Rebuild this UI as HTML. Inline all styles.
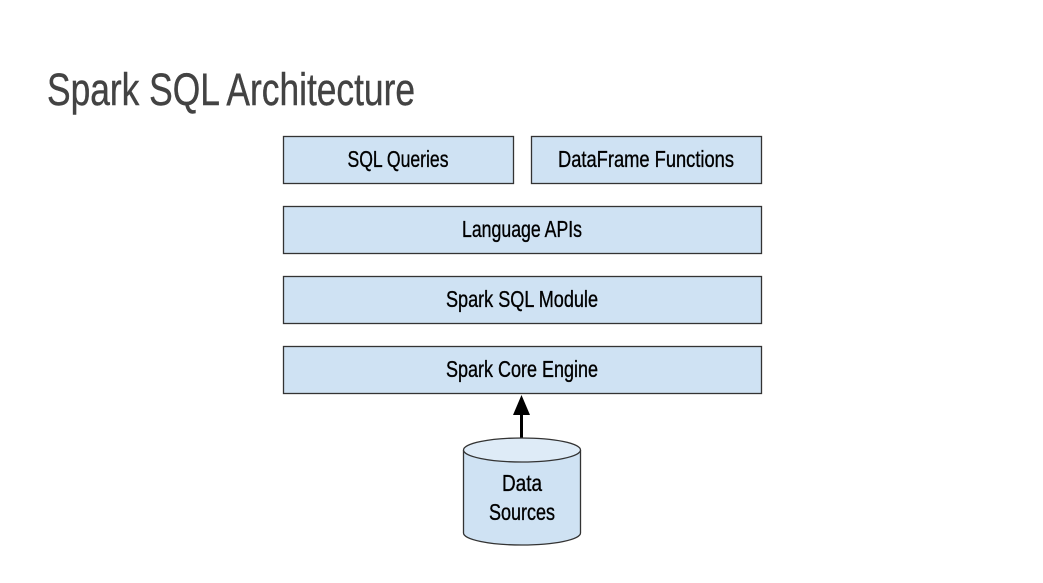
<!DOCTYPE html>
<html><head><style>
html,body{margin:0;padding:0;background:#fff;}
svg{display:block}
text{font-family:"Liberation Sans Narrow","Liberation Sans",sans-serif;}
</style></head><body>
<svg width="1043" height="583" viewBox="0 0 1043 583" xmlns="http://www.w3.org/2000/svg">
<text x="47" y="105" font-size="45" fill="#434343" stroke="#434343" stroke-width="0.4" textLength="368" lengthAdjust="spacingAndGlyphs">Spark SQL Architecture</text>
<g fill="#cfe2f3" stroke="#333" stroke-width="1.3">
<rect x="283.5" y="136.5" width="230" height="47"/>
<rect x="531.5" y="136.5" width="230" height="47"/>
<rect x="283.5" y="206.5" width="478" height="47"/>
<rect x="283.5" y="276.5" width="478" height="47"/>
<rect x="283.5" y="346.5" width="478" height="47"/>
</g>
<g font-size="23" fill="#000" stroke="#000" stroke-width="0.35" text-anchor="middle">
<text x="398" y="167" textLength="101" lengthAdjust="spacingAndGlyphs">SQL Queries</text>
<text x="646" y="167" textLength="176" lengthAdjust="spacingAndGlyphs">DataFrame Functions</text>
<text x="522" y="237" textLength="120" lengthAdjust="spacingAndGlyphs">Language APIs</text>
<text x="522" y="307" textLength="152" lengthAdjust="spacingAndGlyphs">Spark SQL Module</text>
<text x="522" y="377" textLength="152" lengthAdjust="spacingAndGlyphs">Spark Core Engine</text>
</g>
<line x1="521.5" y1="438" x2="521.5" y2="412" stroke="#000" stroke-width="3"/>
<polygon points="521.5,395 513,415 530,415" fill="#000"/>
<path d="M463.5,450 L463.5,533 A58.5,12 0 0 0 580.5,533 L580.5,450" fill="#cfe2f3" stroke="#333" stroke-width="1.3"/>
<ellipse cx="522" cy="450" rx="58.5" ry="12" fill="#deebf7" stroke="#333" stroke-width="1.3"/>
<g font-size="23" fill="#000" stroke="#000" stroke-width="0.35" text-anchor="middle">
<text x="522" y="491" textLength="40" lengthAdjust="spacingAndGlyphs">Data</text>
<text x="522" y="520" textLength="66" lengthAdjust="spacingAndGlyphs">Sources</text>
</g>
</svg>
</body></html>
